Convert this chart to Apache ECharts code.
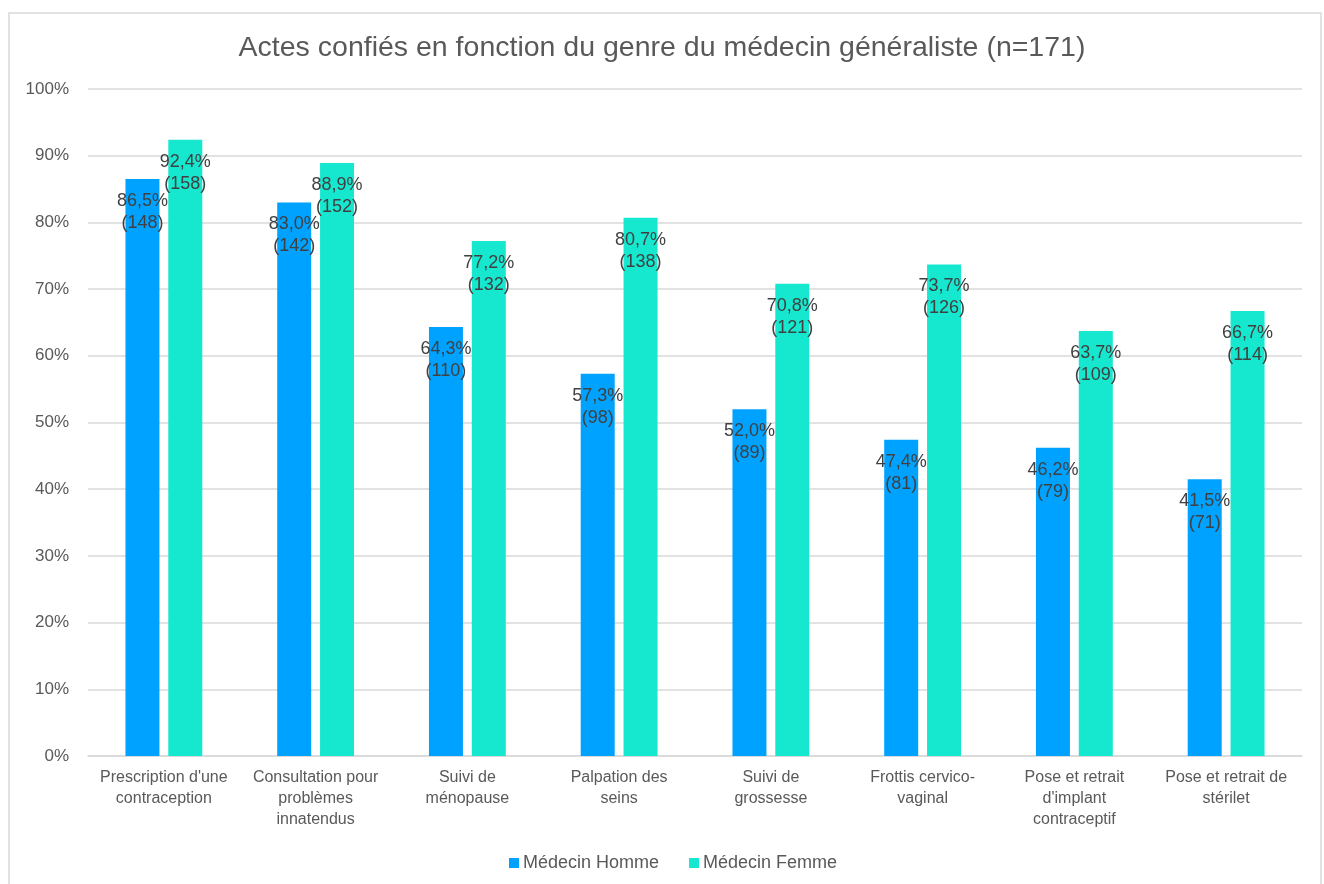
<!DOCTYPE html>
<html>
<head>
<meta charset="utf-8">
<script src="https://cdn.jsdelivr.net/npm/echarts@6/dist/echarts.min.js"></script>
<style>
  html, body { margin: 0; padding: 0; background: #fff; }
  #chart { width: 1324px; height: 884px; }
</style>
</head>
<body>
<div id="chart"></div>
<script>
// categories (line breaks as in the original chart)
var categories = [
  "Prescription d'une\ncontraception",
  "Consultation pour\nproblèmes\ninnatendus",
  "Suivi de\nménopause",
  "Palpation des\nseins",
  "Suivi de\ngrossesse",
  "Frottis cervico-\nvaginal",
  "Pose et retrait\nd'implant\ncontraceptif",
  "Pose et retrait de\nstérilet"
];
var hommePct = [86.5, 83.0, 64.3, 57.3, 52.0, 47.4, 46.2, 41.5];
var hommeN = [148, 142, 110, 98, 89, 81, 79, 71];
var femmePct = [92.4, 88.9, 77.2, 80.7, 70.8, 73.7, 63.7, 66.7];
var femmeN = [158, 152, 132, 138, 121, 126, 109, 114];

var font = "'Liberation Sans', Arial, sans-serif";

function makeLabel(counts) {
  return {
    show: true,
    position: 'insideTop',
    distance: 11,
    color: '#404040',
    fontSize: 18,
    lineHeight: 22,
    fontFamily: font,
    formatter: function (p) {
      return p.value.toFixed(1).replace('.', ',') + '%\n(' + counts[p.dataIndex] + ')';
    }
  };
}

var chart = echarts.init(document.getElementById('chart'));
chart.setOption({
  animation: false,
  textStyle: { fontFamily: font },
  title: {
    text: 'Actes confiés en fonction du genre du médecin généraliste (n=171)',
    left: 'center',
    top: 29,
    textStyle: { fontSize: 28.5, fontWeight: 'normal', color: '#595959', fontFamily: font }
  },
  graphic: [{
    type: 'rect',
    shape: { x: 9, y: 13, width: 1312, height: 880 },
    style: { fill: 'none', stroke: '#d9d9d9', lineWidth: 1.5 },
    silent: true
  }],
  legend: {
    bottom: 7,
    left: 504,
    itemWidth: 10,
    itemHeight: 10,
    itemGap: 30,
    icon: 'rect',
    textStyle: { fontSize: 18, color: '#595959', fontFamily: font, padding: [0, 0, 0, -1] },
    data: ['Médecin Homme', 'Médecin Femme']
  },
  grid: { left: 88, right: 22, top: 89, bottom: 128 },
  xAxis: {
    type: 'category',
    data: categories,
    axisLine: { lineStyle: { color: '#d9d9d9', width: 1.5 } },
    axisTick: { show: false },
    axisLabel: { interval: 0, color: '#595959', fontSize: 16, lineHeight: 21, margin: 11, fontFamily: font }
  },
  yAxis: {
    type: 'value',
    min: 0,
    max: 100,
    interval: 10,
    axisLine: { show: false },
    axisTick: { show: false },
    splitLine: { lineStyle: { color: '#d9d9d9', width: 1.5 } },
    axisLabel: { formatter: '{value}%', color: '#595959', fontSize: 17, margin: 19, fontFamily: font }
  },
  series: [
    {
      name: 'Médecin Homme',
      type: 'bar',
      data: hommePct,
      barWidth: 34,
      barGap: '26%',
      itemStyle: { color: '#00A2FF' },
      label: makeLabel(hommeN)
    },
    {
      name: 'Médecin Femme',
      type: 'bar',
      data: femmePct,
      barWidth: 34,
      itemStyle: { color: '#16E7CF' },
      label: makeLabel(femmeN)
    }
  ]
});
</script>
</body>
</html>
